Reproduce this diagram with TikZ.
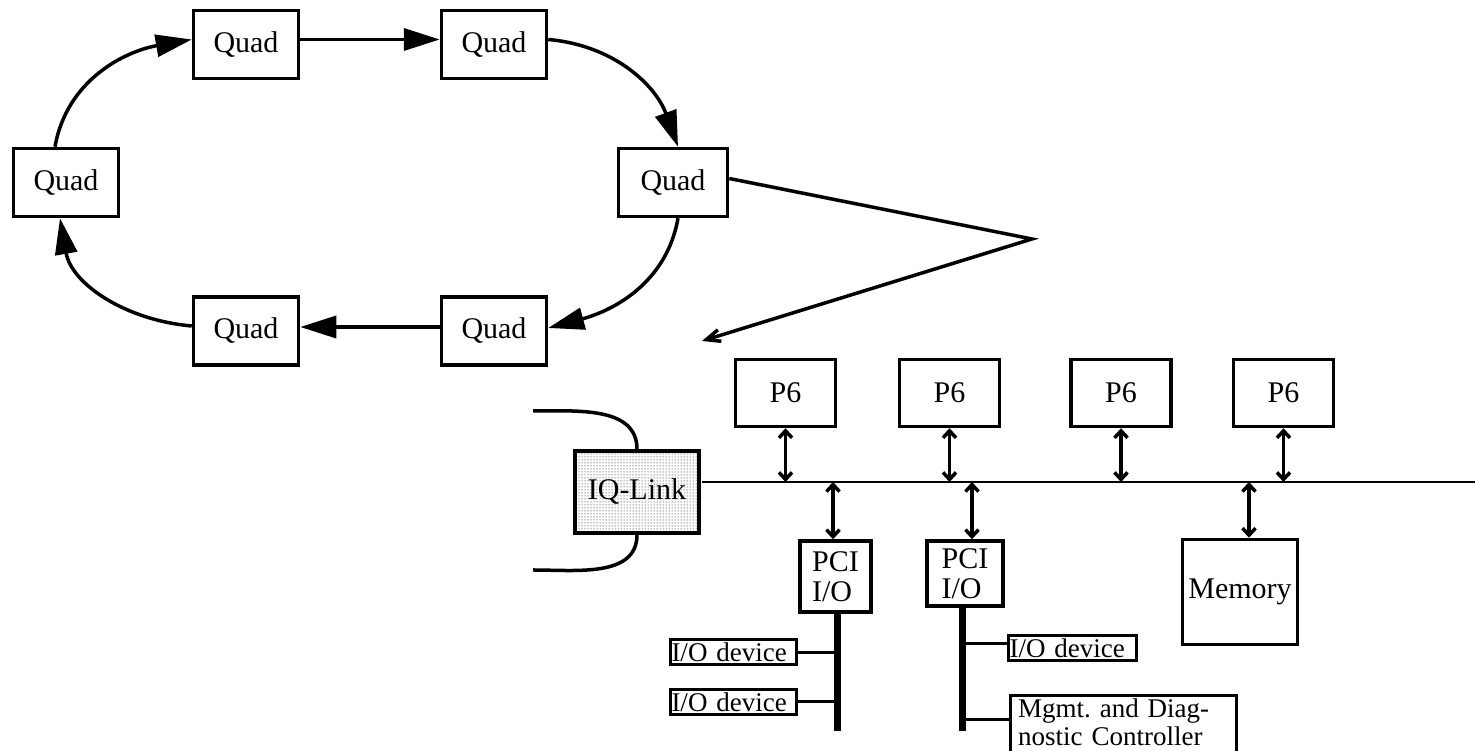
\documentclass[tikz,border=0pt]{standalone}
\usepackage{fontspec}
\setmainfont{Liberation Serif}
\usepackage{tikz}
\usetikzlibrary{arrows.meta,patterns}

\begin{document}
\begin{tikzpicture}[x=1pt,y=1pt,font=\fontsize{30}{30}\selectfont]

  \clip (0,0) rectangle (1475,751);
    \tikzstyle{qnode}=[rectangle,draw=black,line width=3.5pt,minimum width=105pt,minimum height=68pt,inner sep=0pt]
    \tikzstyle{pnode}=[rectangle,draw=black,line width=3.5pt,inner sep=0pt]
    \tikzstyle{cpu}=[pnode,minimum width=100pt,minimum height=67pt]
    \tikzstyle{dnode}=[rectangle,draw=black,line width=3pt,inner xsep=1pt,inner ysep=0pt,minimum height=25pt,align=left,font=\fontsize{27}{28}\selectfont]
    \tikzstyle{ring}=[draw,line width=3.5pt,-{Triangle[length=36pt,width=22pt]}]
    \tikzstyle{link}=[draw,line width=3.5pt,{Straight Barb[length=7pt,width=13pt]}-{Straight Barb[length=7pt,width=13pt]}]
    \tikzstyle{stub}=[line width=3pt]
    \tikzstyle{iobus}=[line width=7pt]

  \node (q1) at (66,568.5) [qnode] {Quad};
  \node (q2) at (246,706.5) [qnode] {Quad};
  \node (q3) at (494,706.5) [qnode] {Quad};
  \node (q4) at (673,568.5) [qnode,minimum width=109pt] {Quad};
  \node (q5) at (494,420) [qnode] {Quad};
  \node (q6) at (246,420) [qnode] {Quad};

\path ([xshift=-11pt]q1.north) edge [ring,out=80,in=190] ([yshift=5pt]q2.west);
\path ([yshift=5pt]q2.east) edge [ring] ([yshift=5pt]q3.west);
\path ([yshift=5pt]q3.east) edge [ring,out=-5,in=110] ([xshift=5pt]q4.north);
\path ([xshift=5pt]q4.south) edge [ring,out=-100,in=15] ([yshift=3pt]q5.east);
\path ([yshift=4pt]q5.west) edge [ring] ([yshift=4pt]q6.east);
\path ([yshift=5pt]q6.west) edge [ring,out=175,in=-80] ([xshift=-6pt]q1.south);

  \coordinate (apex) at (1032,512);
  \coordinate (zoomto) at (702,410);
\draw [line width=3.5pt,-{Straight Barb[length=14pt,width=12pt]}] ([yshift=4pt]q4.east) -- (apex) -- (zoomto);

  \node (p1) at (785.5,358) [cpu] {P6};
  \node (p2) at (949.5,358) [cpu] {P6};
  \node (p3) at (1121,358) [cpu] {P6};
  \node (p4) at (1283.5,358) [cpu] {P6};

  \node (iq) at (637,259) [pnode,minimum width=124pt,minimum height=82pt,pattern=dots,pattern color=black] {IQ-Link};
  \node (pci1) at (835.5,174.5) [pnode,minimum width=71pt,minimum height=71pt,align=left] {PCI\\I/O};
  \node (pci2) at (965,177.5) [pnode,minimum width=76pt,minimum height=65pt,align=left] {PCI\\I/O};
  \node (mem) at (1240,159) [pnode,minimum width=115pt,minimum height=105pt] {Memory};

  \coordinate (busL) at (702,269);
  \coordinate (busR) at (1475,269);
\draw [line width=1.5pt] (busL) -- (busR);

  \coordinate (ringA) at (533,340);
  \coordinate (ringB) at (533,181);
\draw [line width=3.5pt] (iq.north) to [out=90,in=0] (ringA);
\draw [line width=3.5pt] (iq.south) to [out=-90,in=0] (ringB);

\path (p1.south) edge [link] (p1.south |- busL);
\path (p2.south) edge [link] (p2.south |- busL);
\path (p3.south) edge [link] (p3.south |- busL);
\path (p4.south) edge [link] (p4.south |- busL);

  \coordinate (b1) at (833,269);
  \coordinate (b2) at (972,269);
  \coordinate (b3) at (1249,269);
\path (b1) edge [link] (b1 |- pci1.north);
\path (b2) edge [link] (b2 |- pci2.north);
\path (b3) edge [link] (b3 |- mem.north);

  \coordinate (bar1) at (837,20);
  \coordinate (bar2) at (962,20);
\draw [iobus] (bar1 |- pci1.south) -- (bar1);
\draw [iobus] (bar2 |- pci2.south) -- (bar2);

  \node (d1) at (733.5,98.5) [dnode,text width=124pt] {I/O device};
  \node (d2) at (733.5,49) [dnode,text width=124pt] {I/O device};
  \node (d3) at (1072.5,102.5) [dnode,text width=126pt] {I/O device};
  \node (mgmt) at (1008.5,56.5) [dnode,anchor=north west,text width=210pt,inner xsep=8pt,inner ysep=3pt,text depth=55pt] {Mgmt.\ and Diag-\\nostic Controller};

  \coordinate (m3) at ([yshift=5pt]d3.west);
  \coordinate (m4) at ([yshift=-25pt]mgmt.north west);
\draw [stub] (d1.east) -- (d1.east -| bar1);
\draw [stub] (d2.east) -- (d2.east -| bar1);
\draw [stub] (m3) -- (m3 -| bar2);
\draw [stub] (m4) -- (m4 -| bar2);
    \end{tikzpicture}
\end{document}
